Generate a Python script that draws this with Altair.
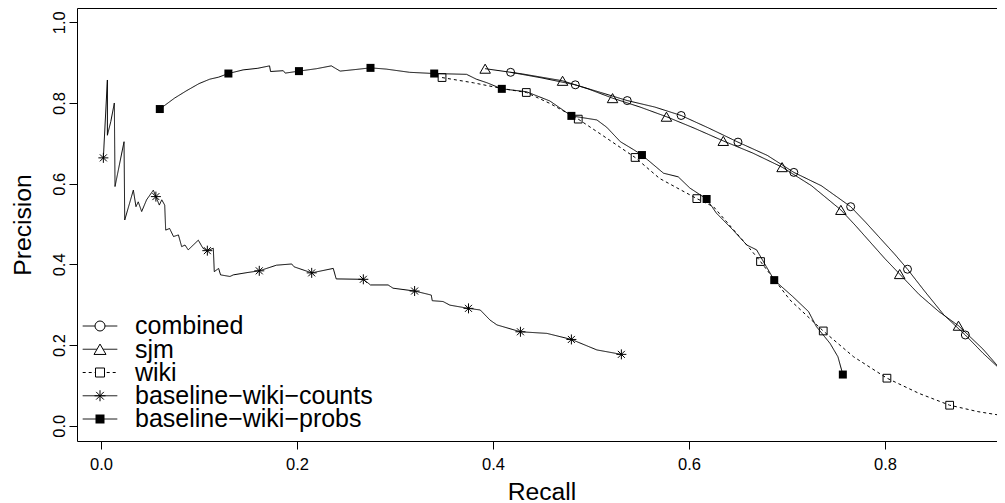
import altair as alt
import pandas as pd

FONT = "Liberation Sans"
MINUS = "\u2212"

series_names = ["combined", "sjm", "wiki",
                "baseline" + MINUS + "wiki" + MINUS + "counts",
                "baseline" + MINUS + "wiki" + MINUS + "probs"]

# ---- line data (recall, precision) ----
comb_r = [0.418, 0.450, 0.484, 0.510, 0.537, 0.565, 0.592, 0.620, 0.650, 0.680, 0.707,
          0.735, 0.765, 0.780, 0.795, 0.810, 0.823, 0.840, 0.860, 0.882, 0.900, 0.923]
comb_p = [0.876, 0.862, 0.845, 0.826, 0.806, 0.790, 0.769, 0.738, 0.703, 0.670, 0.628,
          0.595, 0.543, 0.505, 0.465, 0.425, 0.388, 0.335, 0.275, 0.225, 0.180, 0.128]

sjm_r = [0.392, 0.430, 0.471, 0.497, 0.522, 0.550, 0.577, 0.605, 0.635, 0.665, 0.695,
         0.725, 0.755, 0.770, 0.785, 0.800, 0.815, 0.835, 0.855, 0.875, 0.900, 0.923]
sjm_p = [0.885, 0.872, 0.855, 0.835, 0.812, 0.790, 0.766, 0.738, 0.706, 0.676, 0.641,
         0.595, 0.535, 0.496, 0.455, 0.414, 0.376, 0.325, 0.283, 0.248, 0.190, 0.126]

wiki_r = [0.348, 0.380, 0.409, 0.434, 0.458, 0.487, 0.511, 0.545, 0.570, 0.608, 0.625,
          0.659, 0.673, 0.703, 0.737, 0.768, 0.802, 0.835, 0.866, 0.895, 0.923]
wiki_p = [0.863, 0.850, 0.836, 0.826, 0.799, 0.760, 0.721, 0.665, 0.613, 0.563, 0.543,
          0.448, 0.407, 0.312, 0.235, 0.171, 0.118, 0.080, 0.051, 0.035, 0.024]

counts_r = [0.0024, 0.0065, 0.0065, 0.010, 0.0136, 0.0143, 0.0235, 0.0242, 0.033, 0.0357,
            0.038, 0.0415, 0.0465, 0.0534, 0.056, 0.0595, 0.062, 0.065, 0.066, 0.070,
            0.074, 0.079, 0.0823, 0.0857, 0.089, 0.0993, 0.104, 0.1085, 0.1146, 0.1156,
            0.120, 0.122, 0.1316, 0.135, 0.150, 0.1615, 0.179, 0.1946, 0.197, 0.215,
            0.237, 0.240, 0.2677, 0.275, 0.293, 0.298, 0.320, 0.337, 0.338, 0.349,
            0.356, 0.375, 0.387, 0.397, 0.404, 0.428, 0.455, 0.480, 0.506, 0.531]
counts_p = [0.664, 0.857, 0.720, 0.754, 0.800, 0.593, 0.704, 0.510, 0.584, 0.543,
            0.555, 0.531, 0.560, 0.584, 0.568, 0.547, 0.560, 0.547, 0.485, 0.489,
            0.469, 0.473, 0.444, 0.448, 0.436, 0.460, 0.440, 0.434, 0.440, 0.382,
            0.390, 0.374, 0.370, 0.374, 0.380, 0.384, 0.398, 0.401, 0.394, 0.379,
            0.390, 0.364, 0.363, 0.349, 0.349, 0.341, 0.334, 0.324, 0.310, 0.308,
            0.299, 0.291, 0.287, 0.262, 0.250, 0.233, 0.229, 0.214, 0.188, 0.177]

probs_r = [0.060, 0.075, 0.087, 0.100, 0.111, 0.120, 0.130, 0.145, 0.160, 0.172,
           0.173, 0.186, 0.188, 0.202, 0.220, 0.235, 0.244, 0.260, 0.275, 0.291,
           0.315, 0.340, 0.373, 0.383, 0.394, 0.409, 0.434, 0.458, 0.480, 0.506,
           0.516, 0.530, 0.543, 0.552, 0.574, 0.589, 0.601, 0.618, 0.628, 0.645,
           0.659, 0.669, 0.679, 0.687, 0.706, 0.722, 0.730, 0.744, 0.752, 0.757]
probs_p = [0.785, 0.812, 0.830, 0.848, 0.859, 0.864, 0.873, 0.882, 0.886, 0.892,
           0.878, 0.880, 0.874, 0.879, 0.885, 0.892, 0.879, 0.883, 0.887, 0.884,
           0.876, 0.873, 0.871, 0.859, 0.850, 0.835, 0.828, 0.805, 0.768, 0.758,
           0.740, 0.704, 0.685, 0.671, 0.626, 0.617, 0.589, 0.562, 0.527, 0.485,
           0.448, 0.436, 0.394, 0.361, 0.320, 0.283, 0.246, 0.204, 0.171, 0.127]

# ---- marker points ----
comb_mr = [0.418, 0.484, 0.537, 0.592, 0.650, 0.707, 0.765, 0.823, 0.882]
comb_mp = [0.876, 0.845, 0.806, 0.769, 0.703, 0.628, 0.543, 0.388, 0.225]
sjm_mr = [0.392, 0.471, 0.522, 0.577, 0.635, 0.695, 0.755, 0.815, 0.875]
sjm_mp = [0.885, 0.855, 0.812, 0.766, 0.706, 0.641, 0.535, 0.376, 0.248]
wiki_mr = [0.348, 0.434, 0.487, 0.545, 0.608, 0.673, 0.737, 0.802, 0.866]
wiki_mp = [0.863, 0.826, 0.760, 0.665, 0.563, 0.407, 0.235, 0.118, 0.051]
counts_mr = [0.0024, 0.056, 0.1085, 0.1615, 0.215, 0.2677, 0.320, 0.375, 0.428, 0.480, 0.531]
counts_mp = [0.664, 0.568, 0.434, 0.384, 0.379, 0.363, 0.334, 0.291, 0.233, 0.214, 0.177]
probs_mr = [0.060, 0.130, 0.202, 0.275, 0.340, 0.409, 0.480, 0.552, 0.618, 0.687, 0.757]
probs_mp = [0.785, 0.873, 0.879, 0.887, 0.873, 0.835, 0.768, 0.671, 0.562, 0.361, 0.127]

x_ticks = [0.0, 0.2, 0.4, 0.6, 0.8]
y_ticks = [0.0, 0.2, 0.4, 0.6, 0.8, 1.0]

lines_data = [(comb_r, comb_p), (sjm_r, sjm_p), (wiki_r, wiki_p),
              (counts_r, counts_p), (probs_r, probs_p)]
marks_data = [(comb_mr, comb_mp), (sjm_mr, sjm_mp), (wiki_mr, wiki_mp),
              (counts_mr, counts_mp), (probs_mr, probs_mp)]

ASTERISK = "M0,-1L0,1M-1,0L1,0M-0.7,-0.7L0.7,0.7M-0.7,0.7L0.7,-0.7"
shapes = ["circle", "triangle-up", "square", ASTERISK, "square"]
filled = [False, False, False, False, True]
plot_sizes = [64, 110, 60, 100, 64]
legend_sizes = [100, 144, 81, 121, 81]
dashes = [[1, 0], [1, 0], [3, 3], [1, 0], [1, 0]]

rows = []
for name, (rr, pp) in zip(series_names, lines_data):
    for k, (r, p) in enumerate(zip(rr, pp)):
        rows.append({"series": name, "idx": k, "recall": r, "precision": p})
line_df = pd.DataFrame(rows)

mrows = []
for name, (rr, pp) in zip(series_names, marks_data):
    for r, p in zip(rr, pp):
        mrows.append({"series": name, "recall": r, "precision": p})
mark_df = pd.DataFrame(mrows)

legend_df = pd.DataFrame({"series": series_names, "i": list(range(len(series_names)))})

x_scale = alt.Scale(domain=[-0.0245, 0.9235], nice=False, zero=False)
y_scale = alt.Scale(domain=[-0.0377, 1.0354], nice=False, zero=False)

x_axis = alt.Axis(values=x_ticks, format=".1f", title="Recall", grid=False, domain=False,
                  ticks=True, tickSize=8, tickColor="black", tickWidth=1,
                  labelPadding=7, labelFontSize=16.5, labelColor="black", labelFont=FONT,
                  labelFlush=False, labelOverlap=False,
                  titleFontSize=24.7, titleFontWeight="normal", titleColor="black",
                  titleFont=FONT, titleBaseline="alphabetic", titleY=58.3)
y_axis = alt.Axis(values=y_ticks, format=".1f", title="Precision", grid=False, domain=False,
                  ticks=True, tickSize=8, tickColor="black", tickWidth=1,
                  labelAngle=270, labelAlign="center", labelBaseline="alphabetic",
                  labelPadding=4.5, labelFontSize=16.5, labelColor="black", labelFont=FONT,
                  labelFlush=False, labelOverlap=False,
                  titleAngle=270, titleAlign="center", titleBaseline="alphabetic",
                  titleX=-47, titleY=216.5, titleFontSize=24.7, titleFontWeight="normal",
                  titleColor="black", titleFont=FONT)

dash_scale = alt.Scale(domain=series_names, range=dashes)

lines = alt.Chart(line_df).mark_line(clip=True, strokeWidth=1, color="black").encode(
    x=alt.X("recall:Q", scale=x_scale, axis=x_axis),
    y=alt.Y("precision:Q", scale=y_scale, axis=y_axis),
    detail="series:N",
    order="idx:Q",
    strokeDash=alt.StrokeDash("series:N", scale=dash_scale, legend=None),
)

layers = [lines]
for name, shp, fl, sz in zip(series_names, shapes, filled, plot_sizes):
    layers.append(
        alt.Chart(mark_df).transform_filter(alt.datum.series == name)
        .mark_point(shape=shp, filled=fl, color="black", strokeWidth=1, size=sz,
                    opacity=1, clip=True)
        .encode(x=alt.X("recall:Q", scale=x_scale), y=alt.Y("precision:Q", scale=y_scale))
    )

leg = alt.Chart(legend_df).transform_calculate(ly="318 + 23.25 * datum.i")
layers.append(
    leg.mark_rule(color="black", strokeWidth=1).encode(
        x=alt.value(5.7), x2=alt.value(40.3),
        y=alt.Y("ly:Q", scale=None, axis=None),
        strokeDash=alt.StrokeDash("series:N", scale=dash_scale, legend=None),
    )
)
for name, shp, fl, sz in zip(series_names, shapes, filled, legend_sizes):
    layers.append(
        leg.transform_filter(alt.datum.series == name)
        .mark_point(shape=shp, filled=fl, color="black", strokeWidth=1, size=sz, opacity=1,
                    fill="black" if fl else "white")
        .encode(x=alt.value(23), y=alt.Y("ly:Q", scale=None, axis=None))
    )
layers.append(
    leg.mark_text(align="left", baseline="alphabetic", dy=8.3, fontSize=25, font=FONT,
                  color="black").encode(
        x=alt.value(58), y=alt.Y("ly:Q", scale=None, axis=None), text="series:N")
)

chart = alt.layer(*layers).properties(
    width=929, height=433,
    autosize=alt.AutoSizeParams(type="none"),
    padding={"left": 69, "top": 0, "right": -9, "bottom": 62},
    background="white",
).configure(font=FONT).configure_view(stroke="black", strokeWidth=1)

chart.save("out.html", embed_options={"renderer": "svg", "actions": False})
